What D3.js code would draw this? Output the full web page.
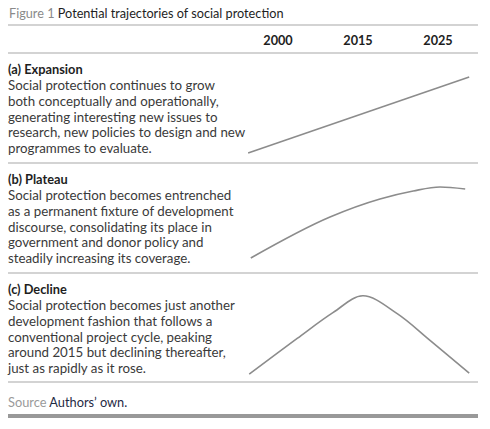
<!DOCTYPE html>
<html><head><meta charset="utf-8">
<script src="https://cdn.jsdelivr.net/npm/d3@7"></script>
<style>body{margin:0;background:#fff;} svg{display:block;font-family:Lato,"Open Sans",sans-serif;}</style>
</head><body><svg id="c" width="490" height="429"></svg>
<script>
const yearLabels = ["2000", "2015", "2025"];
const panelTitles = ["(a) Expansion", "(b) Plateau", "(c) Decline"];
const panelTexts = [
  ["Social protection continues to grow", "both conceptually and operationally,", "generating interesting new issues to", "research, new policies to design and new", "programmes to evaluate."],
  ["Social protection becomes entrenched", "as a permanent fixture of development", "discourse, consolidating its place in", "government and donor policy and", "steadily increasing its coverage."],
  ["Social protection becomes just another", "development fashion that follows a", "conventional project cycle, peaking", "around 2015 but declining thereafter,", "just as rapidly as it rose."]
];
const expansionYears = [1994.4, 2028.9];
const expansionValues = [5, 81];
const plateauYears = [1994.9, 2009.75, 2017.75, 2021.9, 2025.25, 2028.4];
const plateauValues = [10, 51, 69, 77, 81, 79];
const declineYears = [1994.6, 2003.6, 2010.3, 2015.6, 2019.9, 2024, 2028.9];
const declineValues = [3, 39, 65, 82, 64, 37, 4];

const svg = d3.select("#c");
const L = 8, R = 478;
const x = d3.scaleLinear().domain([2000, 2015, 2025]).range([278, 358, 438]);

// title
const t = svg.append("text").attr("x", 9).attr("y", 18).attr("font-size", 12.7);
t.append("tspan").attr("fill", "#8a8a8a").text("Figure 1 ");
t.append("tspan").attr("fill", "#1e1e1e").text("Potential trajectories of social protection");

const rule = (y, w, c) => svg.append("line").attr("x1", L).attr("x2", R).attr("y1", y).attr("y2", y)
  .attr("stroke", c || "#c4c4c4").attr("stroke-width", w || 1.5);
rule(25); rule(53);

svg.selectAll(".yr").data(yearLabels).join("text")
  .attr("x", d => x(+d)).attr("y", 45).attr("text-anchor", "middle")
  .attr("font-size", 12.7).attr("font-weight", "bold").attr("fill", "#1e1e1e").text(d => d);

const panels = [
  {top: 53, bottom: 163, years: expansionYears, values: expansionValues, curve: d3.curveLinear},
  {top: 163, bottom: 273, years: plateauYears, values: plateauValues, curve: d3.curveMonotoneX},
  {top: 273, bottom: 382, years: declineYears, values: declineValues, curve: d3.curveCatmullRom.alpha(0.5)}
];

panels.forEach((p, i) => {
  rule(p.bottom);
  const y = d3.scaleLinear().domain([0, 100]).range([p.bottom - 5, p.top + 5]);
  svg.append("text").attr("x", L).attr("y", p.top + 21).attr("font-size", 12.8)
    .attr("font-weight", "bold").attr("fill", "#1e1e1e").text(panelTitles[i]);
  svg.append("g").selectAll("text").data(panelTexts[i]).join("text")
    .attr("x", L).attr("y", (d, j) => p.top + 37 + j * 15.8)
    .attr("font-size", 13.3).attr("fill", "#3a3a3a").text(d => d);
  const pts = p.years.map((yr, k) => [yr, p.values[k]]);
  svg.append("path").datum(pts)
    .attr("d", d3.line().x(d => x(d[0])).y(d => y(d[1])).curve(p.curve))
    .attr("fill", "none").attr("stroke", "#8c8c8c").attr("stroke-width", 1.6);
});

const s = svg.append("text").attr("x", L).attr("y", 407).attr("font-size", 12.8);
s.append("tspan").attr("fill", "#9a9a9a").text("Source ");
s.append("tspan").attr("fill", "#1f2a44").text("Authors’ own.");
svg.append("rect").attr("x", L).attr("y", 414).attr("width", R - L).attr("height", 4).attr("fill", "#999");
</script></body></html>
